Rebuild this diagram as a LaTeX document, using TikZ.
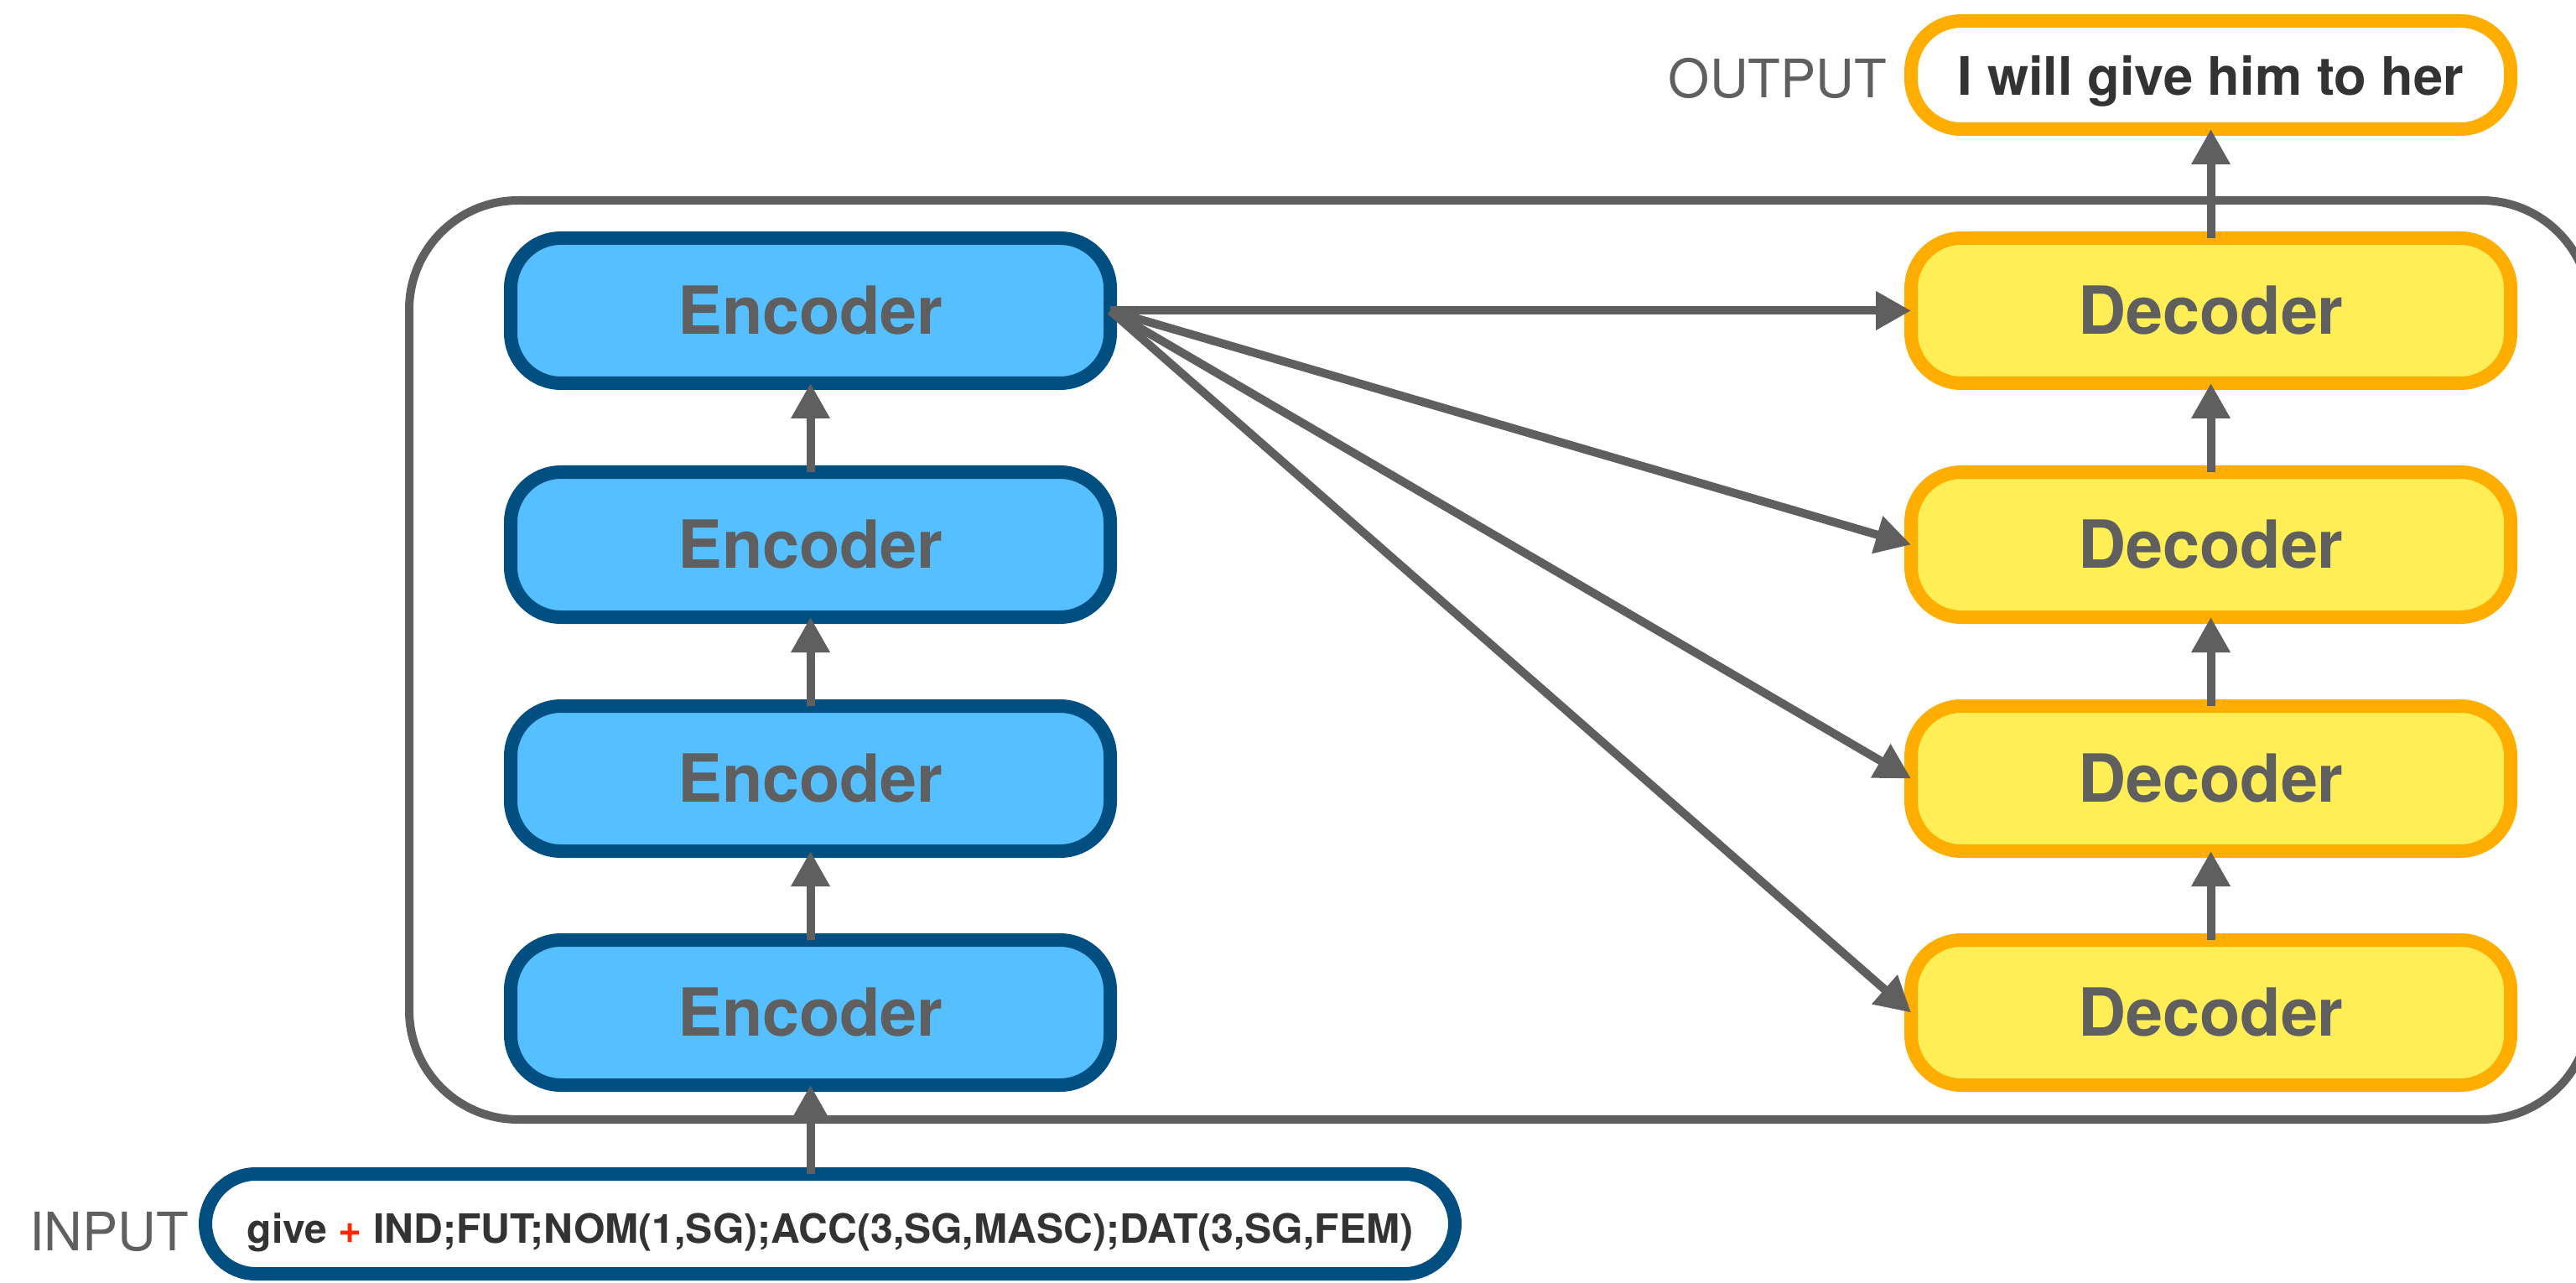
\documentclass[tikz,border=0pt]{standalone}
\usepackage{fontspec}
\setmainfont{TeX Gyre Heros}
\usetikzlibrary{arrows.meta}

\definecolor{encfill}{HTML}{55BFFF}
\definecolor{encline}{HTML}{004F80}
\definecolor{decfill}{HTML}{FFEE55}
\definecolor{decline}{HTML}{FFAE00}
\definecolor{linegray}{HTML}{5F5F5F}
\definecolor{textdark}{HTML}{333333}
\definecolor{plusred}{HTML}{FF2600}

\begin{document}
\begin{tikzpicture}[
    block/.style={line width=0.16cm, rounded corners=0.6cm, minimum width=7.15cm, minimum height=1.73cm,
        inner sep=0pt, outer sep=0pt, text=linegray, font=\fontsize{22.5}{27}\selectfont\bfseries},
    enc/.style={block, draw=encline, fill=encfill},
    dec/.style={block, draw=decline, fill=decfill},
    iobox/.style={line width=0.16cm, rounded corners=0.6cm, fill=white, inner sep=0pt, outer sep=0pt,
        text=textdark, text depth=0pt},
    tag/.style={anchor=base, text=linegray, font=\fontsize{18}{22}\selectfont},
    link/.style={draw=linegray, line width=0.1cm, -{Triangle[length=0.42cm, width=0.44cm]}}
]
    \useasboundingbox (0,0) rectangle (30.72,15.29);

    % Frame
    \draw [linegray, line width=0.1cm, rounded corners=1.3cm] (4.88,1.94) rectangle (30.89,12.90);

    % Encoders
    \node[enc] (enc1) at (9.665,11.585) {Encoder};
    \node[enc] (enc2) at (9.665,8.795) {Encoder};
    \node[enc] (enc3) at (9.665,6.005) {Encoder};
    \node[enc] (enc4) at (9.665,3.215) {Encoder};

    % Decoders
    \node[dec] (dec1) at (26.365,11.585) {Decoder};
    \node[dec] (dec2) at (26.365,8.795) {Decoder};
    \node[dec] (dec3) at (26.365,6.005) {Decoder};
    \node[dec] (dec4) at (26.365,3.215) {Decoder};

    % Input and output
    \node[iobox, draw=encline, minimum width=14.9cm, minimum height=1.19cm, text height=0.45cm,
        font=\fontsize{13.7}{16}\selectfont\bfseries] (inp) at (9.90,0.695)
        {give {\color{plusred}+} IND;FUT;NOM(1,SG);ACC(3,SG,MASC);DAT(3,SG,FEM)};
    \node[iobox, draw=decline, minimum width=7.15cm, minimum height=1.29cm,
        font=\fontsize{18}{22}\selectfont\bfseries] (out) at (26.365,14.395) {I will give him to her};

    \node[tag] (inlabel) at (1.30,0.38) {INPUT};
    \node[tag] (outlabel) at (21.20,14.12) {OUTPUT};

    % Encoder stack
    \draw[link] (enc4.south |- inp.north) -- (enc4.south);
    \draw[link] (enc4) -- (enc3);
    \draw[link] (enc3) -- (enc2);
    \draw[link] (enc2) -- (enc1);

    % Encoder to decoders
    \draw[link] (enc1.east) -- (dec1.west);
    \draw[link] (enc1.east) -- (dec2.west);
    \draw[link] (enc1.east) -- (dec3.west);
    \draw[link] (enc1.east) -- (dec4.west);

    % Decoder stack
    \draw[link] (dec4) -- (dec3);
    \draw[link] (dec3) -- (dec2);
    \draw[link] (dec2) -- (dec1);
    \draw[link] (dec1) -- (out);
\end{tikzpicture}
\end{document}
